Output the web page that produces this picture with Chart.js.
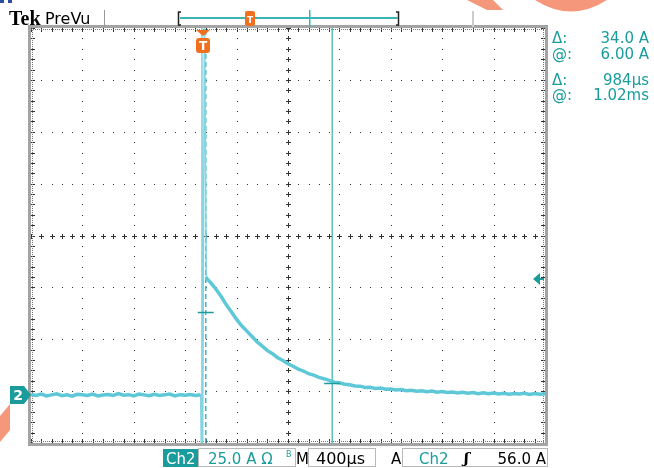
<!DOCTYPE html>
<html>
<head>
<meta charset="utf-8">
<script src="https://cdn.jsdelivr.net/npm/chart.js@4.4.1/dist/chart.umd.min.js"></script>
<style>
  html, body { margin: 0; padding: 0; background: #fff; }
  canvas { display: block; }
</style>
</head>
<body>
<canvas id="scope" width="654" height="468"></canvas>
<script>
// settings
var voltsPerDiv = 25;      // A / div
var timePerDiv = 400;      // us / div
var yMin = -23.1;          // bottom of screen, A
var yMax = yMin + 8 * voltsPerDiv;
var triggerUs = 1330;
var triggerLevel = 56;
var cursorTimes = [1360, 2344];
var cursorLevels = [40, 6];

// trace, ch2 (A vs us)
var baselineTime = [0, 40, 80, 120, 160, 200, 240, 280, 320, 360, 400, 440, 480, 520, 560, 600, 640, 680, 720, 760, 800, 840, 880, 920, 960, 1000, 1040, 1080, 1120, 1160, 1200, 1240, 1280, 1320];
var baselineA = [0.3, -0.2, 0.5, -0.4, 0.1, 0.6, -0.3, 0.1, -0.5, 0.4, 0.2, -0.2, 0.5, -0.4, 0.0, 0.3, -0.2, 0.7, -0.1, 0.2, -0.4, 0.5, 0.1, -0.3, 0.4, -0.2, 0.1, 0.5, -0.4, 0.2, -0.1, 0.3, -0.2, 0.1];
var spikeTime = [1320, 1326, 1330, 1336, 1350, 1364];
var spikeA = [0.1, -30, 190, -30, 190, 57];
var decayTime = [1364, 1370, 1400, 1440, 1480, 1520, 1560, 1600, 1640, 1680, 1720, 1760, 1800, 1840, 1880, 1920, 1960, 2000, 2040, 2080, 2120, 2160, 2200, 2240, 2280, 2320, 2360, 2400, 2440, 2480, 2520, 2560, 2600, 2640, 2680, 2720, 2760, 2800, 2840, 2880, 2920, 2960, 3000, 3040, 3080, 3120, 3160, 3200, 3240, 3280, 3320, 3360, 3400, 3440, 3480, 3520, 3560, 3600, 3640, 3680, 3720, 3760, 3800, 3840, 3880, 3920, 3960, 4000];
var decayA = [57, 56, 54.0, 51.0, 47.5, 43.5, 40.0, 36.5, 33.4, 30.8, 28.2, 25.6, 23.6, 21.4, 19.9, 18.0, 16.7, 15.1, 13.9, 12.5, 11.6, 10.3, 9.6, 8.5, 7.9, 7.1, 6.2, 5.9, 5.2, 5.0, 4.4, 4.3, 3.7, 3.8, 3.2, 3.4, 2.8, 2.9, 2.4, 2.7, 2.1, 2.3, 1.8, 2.1, 1.6, 1.9, 1.4, 1.7, 1.2, 1.5, 1.0, 1.3, 0.9, 1.2, 0.7, 1.1, 0.6, 1.0, 0.5, 0.9, 0.4, 0.8, 0.5, 0.9, 0.3, 0.7, 0.4, 0.6];

var TEAL = '#1a9c9c';
var TRACE = '#5ec8d8';
var ORANGE = '#f0701e';

function toPoints(ts, vs) {
    return ts.map(function(t, i) { return {x: t, y: vs[i]}; });
}

var graticule = {
    id: 'graticule',
    beforeDatasetsDraw: function(chart) {
        var ctx = chart.ctx, a = chart.chartArea;
        var xs = chart.scales.x, ys = chart.scales.y;
        var i, j, px, py;
        ctx.save();
        ctx.fillStyle = '#333';
        // dotted division lines
        for (i = 1; i < 10; i++) {
            px = Math.round(xs.getPixelForValue(i * timePerDiv));
            for (j = 0; j <= 40; j++) {
                py = Math.round(ys.getPixelForValue(yMin + j * voltsPerDiv / 5));
                ctx.fillRect(px, py, 1, 1);
            }
        }
        for (i = 1; i < 8; i++) {
            py = Math.round(ys.getPixelForValue(yMin + i * voltsPerDiv));
            for (j = 0; j <= 50; j++) {
                px = Math.round(xs.getPixelForValue(j * timePerDiv / 5));
                ctx.fillRect(px, py, 1, 1);
            }
        }
        // centre axes with ticks
        var cx = Math.round(xs.getPixelForValue(5 * timePerDiv));
        var cy = Math.round(ys.getPixelForValue(yMin + 4 * voltsPerDiv));
        for (j = 0; j <= 50; j++) {
            px = Math.round(xs.getPixelForValue(j * timePerDiv / 5));
            ctx.fillRect(px, cy - 2, 1, 5);
            ctx.fillRect(px - 2, cy, 5, 1);
        }
        for (j = 0; j <= 40; j++) {
            py = Math.round(ys.getPixelForValue(yMin + j * voltsPerDiv / 5));
            ctx.fillRect(cx - 2, py, 5, 1);
            ctx.fillRect(cx, py - 2, 1, 5);
        }
        // edge rulers
        for (j = 0; j <= 50; j++) {
            px = Math.round(xs.getPixelForValue(j * timePerDiv / 5));
            ctx.fillRect(px, a.top, 1, 4);
            ctx.fillRect(px, a.bottom - 4, 1, 4);
        }
        for (j = 0; j <= 40; j++) {
            py = Math.round(ys.getPixelForValue(yMin + j * voltsPerDiv / 5));
            ctx.fillRect(a.left, py, 4, 1);
            ctx.fillRect(a.right - 4, py, 4, 1);
        }
        ctx.fillStyle = '#777';
        for (px = a.left; px < a.right; px += 2) {
            ctx.fillRect(px, a.top + 1, 1, 1);
            ctx.fillRect(px, a.bottom - 2, 1, 1);
        }
        for (py = a.top; py < a.bottom; py += 2) {
            ctx.fillRect(a.left + 1, py, 1, 1);
            ctx.fillRect(a.right - 2, py, 1, 1);
        }
        ctx.restore();
    },
    afterDraw: function(chart) {
        var ctx = chart.ctx, a = chart.chartArea;
        var xs = chart.scales.x, ys = chart.scales.y;
        ctx.save();

        // frame
        ctx.strokeStyle = '#a4a4a4';
        ctx.lineWidth = 3;
        ctx.strokeRect(a.left - 1.5, a.top - 1.5, a.right - a.left + 3, a.bottom - a.top + 3);

        // cursor crossing marks
        ctx.strokeStyle = TEAL;
        ctx.lineWidth = 1.5;
        cursorTimes.forEach(function(t, i) {
            var px = xs.getPixelForValue(t), py = Math.round(ys.getPixelForValue(cursorLevels[i])) + 0.5;
            ctx.beginPath();
            ctx.moveTo(px - 8, py);
            ctx.lineTo(px + 8, py);
            ctx.stroke();
        });

        // trigger T marker on top
        var tx = Math.round(xs.getPixelForValue(triggerUs)) + 1;
        ctx.fillStyle = ORANGE;
        ctx.beginPath();
        ctx.moveTo(tx - 7, a.top + 2);
        ctx.lineTo(tx + 7, a.top + 2);
        ctx.lineTo(tx, a.top + 8);
        ctx.closePath();
        ctx.fill();
        ctx.beginPath();
        ctx.roundRect(tx - 7, a.top + 10, 14, 15, 3);
        ctx.fill();
        ctx.fillStyle = '#fff';
        ctx.font = 'bold 12px "DejaVu Sans"';
        ctx.textAlign = 'center';
        ctx.fillText('T', tx, a.top + 22);

        // trigger level arrow on right
        var ly = Math.round(ys.getPixelForValue(triggerLevel));
        ctx.fillStyle = TEAL;
        ctx.beginPath();
        ctx.moveTo(a.right - 12, ly);
        ctx.lineTo(a.right - 5, ly - 6);
        ctx.lineTo(a.right - 5, ly + 6);
        ctx.closePath();
        ctx.fill();
        ctx.fillRect(a.right - 6, ly - 1, 5, 2);

        // channel 2 ground marker
        var gy = Math.round(ys.getPixelForValue(0));
        ctx.fillStyle = TEAL;
        ctx.beginPath();
        ctx.moveTo(10, gy - 9);
        ctx.lineTo(24, gy - 9);
        ctx.lineTo(31, gy);
        ctx.lineTo(24, gy + 9);
        ctx.lineTo(10, gy + 9);
        ctx.closePath();
        ctx.fill();
        ctx.fillStyle = '#fff';
        ctx.font = 'bold 14px "DejaVu Sans"';
        ctx.textAlign = 'center';
        ctx.fillText('2', 18, gy + 5);

        // header
        ctx.textAlign = 'left';
        ctx.fillStyle = '#000';
        ctx.font = 'bold 20px "Liberation Serif"';
        ctx.fillText('Tek', 9, 25);
        ctx.font = '16px "DejaVu Sans"';
        ctx.fillText('PreVu', 45, 24);
        ctx.fillStyle = '#999';
        ctx.fillRect(104, 10, 1, 17);
        ctx.fillStyle = '#ccc';
        ctx.fillRect(472, 11, 2, 16);

        // record view bracket
        ctx.strokeStyle = '#222';
        ctx.lineWidth = 1.5;
        ctx.beginPath();
        ctx.moveTo(181, 12); ctx.lineTo(178.5, 12); ctx.lineTo(178.5, 25); ctx.lineTo(181, 25);
        ctx.moveTo(396, 12); ctx.lineTo(398.5, 12); ctx.lineTo(398.5, 25); ctx.lineTo(396, 25);
        ctx.stroke();
        ctx.fillStyle = '#3bb4b4';
        ctx.fillRect(180, 17, 218, 2);
        ctx.fillRect(309, 10, 1.5, 17);
        ctx.fillStyle = ORANGE;
        ctx.beginPath();
        ctx.roundRect(245, 11, 10, 15, 2);
        ctx.fill();
        ctx.fillStyle = '#fff';
        ctx.font = 'bold 9px "DejaVu Sans"';
        ctx.textAlign = 'center';
        ctx.fillText('T', 250, 23);

        // cursor readouts
        ctx.fillStyle = TEAL;
        ctx.font = '15px "DejaVu Sans"';
        var rows = [['\u0394:', '34.0 A', 43], ['@:', '6.00 A', 59], ['\u0394:', '984\u00b5s', 85], ['@:', '1.02ms', 100]];
        rows.forEach(function(r) {
            ctx.textAlign = 'left';
            ctx.fillText(r[0], 552, r[2]);
            ctx.textAlign = 'right';
            ctx.fillText(r[1], 649, r[2]);
        });

        // status bar
        ctx.strokeStyle = '#b8b8b8';
        ctx.lineWidth = 1;
        ctx.strokeRect(198.5, 448.5, 97, 18);
        ctx.strokeRect(308.5, 448.5, 67, 18);
        ctx.strokeRect(402.5, 448.5, 145, 18);
        ctx.fillStyle = TEAL;
        ctx.fillRect(163, 449, 35, 18);
        ctx.font = '15px "DejaVu Sans"';
        ctx.textAlign = 'left';
        ctx.fillStyle = '#fff';
        ctx.fillText('Ch2', 166, 464);
        ctx.fillStyle = TEAL;
        ctx.fillText('25.0 A \u03a9', 208, 464);
        ctx.font = '8px "DejaVu Sans"';
        ctx.fillText('B', 286, 457);
        ctx.font = '15px "DejaVu Sans"';
        ctx.fillText('Ch2', 419, 464);
        ctx.fillStyle = '#000';
        ctx.fillText('M', 296, 464);
        ctx.font = '16px "DejaVu Sans"';
        ctx.fillText('400\u00b5s', 316, 464);
        ctx.font = '15px "DejaVu Sans"';
        ctx.fillText('A', 391, 464);
        ctx.font = 'italic bold 15px "DejaVu Serif"';
        ctx.fillText('\u0283', 464, 463);
        ctx.font = '15px "DejaVu Sans"';
        ctx.textAlign = 'right';
        ctx.fillText('56.0 A', 546, 464);

        // stray marks at the corners
        ctx.fillStyle = '#f5977a';
        ctx.beginPath();
        ctx.moveTo(467, 0); ctx.lineTo(493, 0); ctx.lineTo(503, 10); ctx.lineTo(487, 10);
        ctx.closePath();
        ctx.fill();
        ctx.beginPath();
        ctx.moveTo(535, 0);
        ctx.quadraticCurveTo(571, 23, 607, 0);
        ctx.closePath();
        ctx.fill();
        ctx.beginPath();
        ctx.moveTo(10, 404); ctx.lineTo(10, 430); ctx.lineTo(0, 442); ctx.lineTo(0, 416);
        ctx.closePath();
        ctx.fill();
        ctx.fillStyle = '#2a4fa0';
        ctx.fillRect(0, 0, 4, 3);
        ctx.fillRect(8, 0, 4, 3);
        ctx.restore();
    }
};

document.addEventListener('DOMContentLoaded', function() {
    'use strict';
    new Chart(document.getElementById('scope').getContext('2d'), {
        type: 'line',
        data: {
            datasets: [{
                label: 'Ch2',
                data: toPoints(baselineTime, baselineA).concat(toPoints(decayTime, decayA)),
                borderColor: TRACE,
                borderWidth: 3.5,
                pointRadius: 0,
                tension: 0,
                segment: {
                    // the fast edge is drawn by the thinner dataset below
                    borderColor: function(c) { return c.p0.parsed.x === 1320 ? 'rgba(0,0,0,0)' : undefined; }
                }
            }, {
                label: 'Ch2 edge',
                data: toPoints(spikeTime, spikeA),
                borderColor: '#86d4e0',
                borderWidth: 1.5,
                pointRadius: 0,
                tension: 0
            }, {
                label: 'cursor 1',
                data: [{x: cursorTimes[0], y: yMin}, {x: cursorTimes[0], y: yMax}],
                borderColor: '#3fb6c4',
                borderWidth: 1.5,
                borderDash: [5, 3],
                pointRadius: 0
            }, {
                label: 'cursor 2',
                data: [{x: cursorTimes[1], y: yMin}, {x: cursorTimes[1], y: yMax}],
                borderColor: '#3ab0b0',
                borderWidth: 1.2,
                pointRadius: 0
            }]
        },
        options: {
            responsive: false,
            animation: false,
            layout: { padding: { left: 31, right: 109, top: 28, bottom: 25 } },
            plugins: { legend: { display: false }, tooltip: { enabled: false } },
            scales: {
                x: { type: 'linear', display: false, min: 0, max: 10 * timePerDiv },
                y: { type: 'linear', display: false, min: yMin, max: yMax }
            }
        },
        plugins: [graticule]
    });
});
</script>
</body>
</html>
